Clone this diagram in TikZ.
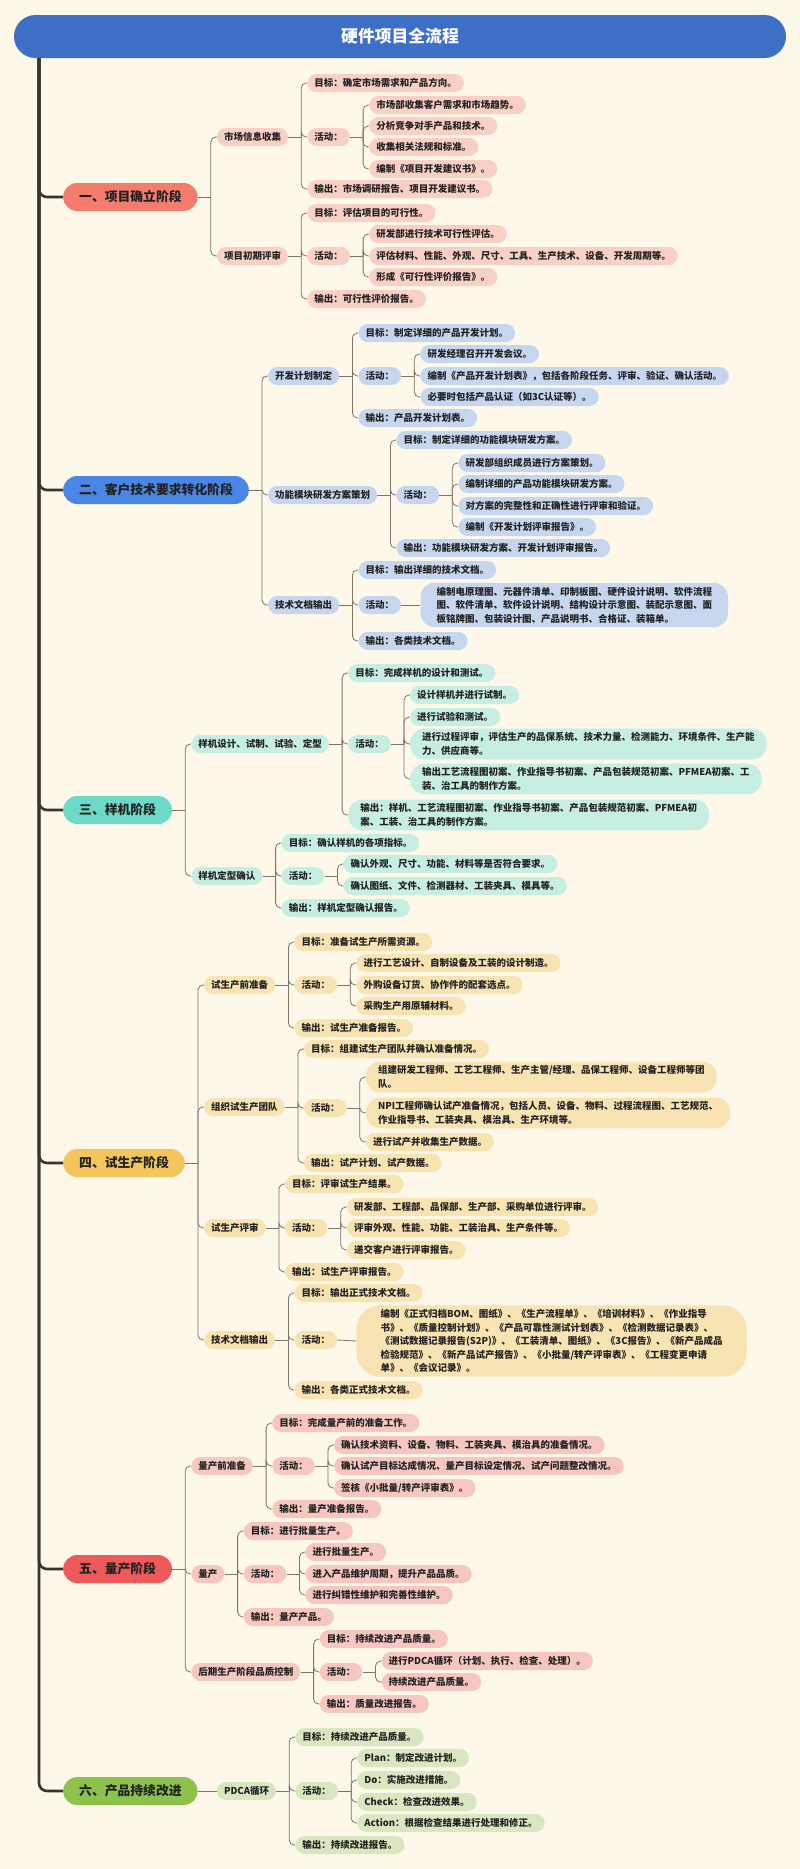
\documentclass[tikz,border=0pt]{standalone}
\usepackage{fontspec}
\setmainfont{Noto Sans CJK SC}
\usepackage{tikz}

\definecolor{paper}{HTML}{FDF8E9}
\definecolor{titleblue}{HTML}{3D6FC6}
\definecolor{ink}{HTML}{222222}
\definecolor{linec}{HTML}{7D7567}
\definecolor{trunkc}{HTML}{3B342E}
\definecolor{oneS}{HTML}{F47C6C}
\definecolor{oneL}{HTML}{F9D0C5}
\definecolor{twoS}{HTML}{4A86E3}
\definecolor{twoL}{HTML}{C6D6EE}
\definecolor{threeS}{HTML}{6ED8C9}
\definecolor{threeL}{HTML}{C6EEE2}
\definecolor{fourS}{HTML}{F3C55C}
\definecolor{fourL}{HTML}{F8E4B3}
\definecolor{fiveS}{HTML}{EE5A5A}
\definecolor{fiveL}{HTML}{F6C6C1}
\definecolor{sixS}{HTML}{8DC34D}
\definecolor{sixL}{HTML}{D9E7C1}

\begin{document}
\begin{tikzpicture}[
  x=1pt, y=-1pt,
  titlebar/.style={
      fill=titleblue,
      text=white,
      rounded corners=21.5pt,
      minimum width=772pt,
      minimum height=43pt,
      font=\fontsize{16.8}{20}\selectfont\bfseries
    },
  box/.style={
      fill=leafc,
      text=ink,
      rounded corners=9pt,
      inner xsep=7pt,
      inner ysep=0pt,
      minimum height=18pt,
      font=\fontsize{9.5}{13.5}\selectfont\bfseries
    },
  leaf/.style={
      box,
      text height=8.2pt,
      text depth=1.6pt
    },
  bigleaf/.style={
      box,
      align=left,
      inner xsep=12pt,
      inner ysep=4pt,
      rounded corners=14pt
    },
  stage/.style={
      fill=stagec,
      text=ink,
      anchor=west,
      rounded corners=14pt,
      minimum height=28pt,
      inner xsep=16pt,
      text height=11pt,
      text depth=1.6pt,
      font=\fontsize{12.8}{15}\selectfont\bfseries
    },
  kid/.style={
      anchor=west,
      xshift=19pt
    },
  link/.style={
      draw=linec,
      line width=0.8pt,
      rounded corners=5pt
    },
  trunk/.style={
      draw=trunkc,
      line width=2.6pt,
      rounded corners=8pt
    }]

  \fill [paper] (0,0) rectangle (800,1869);
  \useasboundingbox (0,0) rectangle (800,1869);

  \node [titlebar] (title) at (400,36.5) {硬件项目全流程};

  % 一
  \begin{scope}
    \colorlet{stagec}{oneS}
    \colorlet{leafc}{oneL}
    \node [stage] (p1) at (63,197) {一、项目确立阶段};
    \node [leaf, kid] (p1a) at (p1.east |- 0,137) {市场信息收集};
    \node [leaf, kid] (p1b) at (p1.east |- 0,256) {项目初期评审};

    \node [leaf, kid] (p1a-goal) at (p1a.east |- 0,83) {目标：确定市场需求和产品方向。};
    \node [leaf, kid] (p1a-act) at (p1a.east |- 0,137) {活动：};
    \node [leaf, kid] (p1a-out) at (p1a.east |- 0,189) {输出：市场调研报告、项目开发建议书。};
    \node [leaf, kid] (p1a-act1) at (p1a-act.east |- 0,105) {市场部收集客户需求和市场趋势。};
    \node [leaf, kid] (p1a-act2) at (p1a-act.east |- 0,126) {分析竞争对手产品和技术。};
    \node [leaf, kid] (p1a-act3) at (p1a-act.east |- 0,147) {收集相关法规和标准。};
    \node [leaf, kid] (p1a-act4) at (p1a-act.east |- 0,169) {编制《项目开发建议书》。};

    \node [leaf, kid] (p1b-goal) at (p1b.east |- 0,213) {目标：评估项目的可行性。};
    \node [leaf, kid] (p1b-act) at (p1b.east |- 0,256) {活动：};
    \node [leaf, kid] (p1b-out) at (p1b.east |- 0,299) {输出：可行性评价报告。};
    \node [leaf, kid] (p1b-act1) at (p1b-act.east |- 0,234) {研发部进行技术可行性评估。};
    \node [leaf, kid] (p1b-act2) at (p1b-act.east |- 0,256) {评估材料、性能、外观、尺寸、工具、生产技术、设备、开发周期等。};
    \node [leaf, kid] (p1b-act3) at (p1b-act.east |- 0,277) {形成《可行性评价报告》。};

    \draw [link] (p1.east) -- ++(13,0) coordinate (p1j);
    \foreach \c in {p1a,p1b} \draw [link] (p1j) |- (\c.west);
    \draw [link] (p1a.east) -- ++(13,0) coordinate (p1aj);
    \foreach \c in {p1a-goal,p1a-act,p1a-out} \draw [link] (p1aj) |- (\c.west);
    \draw [link] (p1a-act.east) -- ++(13,0) coordinate (p1aaj);
    \foreach \c in {p1a-act1,p1a-act2,p1a-act3,p1a-act4} \draw [link] (p1aaj) |- (\c.west);
    \draw [link] (p1b.east) -- ++(13,0) coordinate (p1bj);
    \foreach \c in {p1b-goal,p1b-act,p1b-out} \draw [link] (p1bj) |- (\c.west);
    \draw [link] (p1b-act.east) -- ++(13,0) coordinate (p1baj);
    \foreach \c in {p1b-act1,p1b-act2,p1b-act3} \draw [link] (p1baj) |- (\c.west);
  \end{scope}

  % 二
  \begin{scope}
    \colorlet{stagec}{twoS}
    \colorlet{leafc}{twoL}
    \node [stage] (p2) at (63,490) {二、客户技术要求转化阶段};
    \node [leaf, kid] (p2a) at (p2.east |- 0,376) {开发计划制定};
    \node [leaf, kid] (p2b) at (p2.east |- 0,495) {功能模块研发方案策划};
    \node [leaf, kid] (p2c) at (p2.east |- 0,605) {技术文档输出};

    \node [leaf, kid] (p2a-goal) at (p2a.east |- 0,333) {目标：制定详细的产品开发计划。};
    \node [leaf, kid] (p2a-act) at (p2a.east |- 0,376) {活动：};
    \node [leaf, kid] (p2a-out) at (p2a.east |- 0,418) {输出：产品开发计划表。};
    \node [leaf, kid] (p2a-act1) at (p2a-act.east |- 0,354) {研发经理召开开发会议。};
    \node [leaf, kid] (p2a-act2) at (p2a-act.east |- 0,376) {编制《产品开发计划表》，包括各阶段任务、评审、验证、确认活动。};
    \node [leaf, kid] (p2a-act3) at (p2a-act.east |- 0,397) {必要时包括产品认证（如3C认证等）。};

    \node [leaf, kid] (p2b-goal) at (p2b.east |- 0,440) {目标：制定详细的功能模块研发方案。};
    \node [leaf, kid] (p2b-act) at (p2b.east |- 0,495) {活动：};
    \node [leaf, kid] (p2b-out) at (p2b.east |- 0,548) {输出：功能模块研发方案、开发计划评审报告。};
    \node [leaf, kid] (p2b-act1) at (p2b-act.east |- 0,463) {研发部组织成员进行方案策划。};
    \node [leaf, kid] (p2b-act2) at (p2b-act.east |- 0,484) {编制详细的产品功能模块研发方案。};
    \node [leaf, kid] (p2b-act3) at (p2b-act.east |- 0,506) {对方案的完整性和正确性进行评审和验证。};
    \node [leaf, kid] (p2b-act4) at (p2b-act.east |- 0,527) {编制《开发计划评审报告》。};

    \node [leaf, kid] (p2c-goal) at (p2c.east |- 0,570) {目标：输出详细的技术文档。};
    \node [leaf, kid] (p2c-act) at (p2c.east |- 0,605) {活动：};
    \node [leaf, kid] (p2c-out) at (p2c.east |- 0,641) {输出：各类技术文档。};
    \node [bigleaf, kid, inner xsep=16pt] (p2c-act1) at (p2c-act.east |- 0,605)
      {编制电原理图、元器件清单、印制板图、硬件设计说明、软件流程\\
       图、软件清单、软件设计说明、结构设计示意图、装配示意图、面\\
       板铭牌图、包装设计图、产品说明书、合格证、装箱单。};

    \draw [link] (p2.east) -- ++(13,0) coordinate (p2j);
    \foreach \c in {p2a,p2b,p2c} \draw [link] (p2j) |- (\c.west);
    \draw [link] (p2a.east) -- ++(13,0) coordinate (p2aj);
    \foreach \c in {p2a-goal,p2a-act,p2a-out} \draw [link] (p2aj) |- (\c.west);
    \draw [link] (p2a-act.east) -- ++(13,0) coordinate (p2aaj);
    \foreach \c in {p2a-act1,p2a-act2,p2a-act3} \draw [link] (p2aaj) |- (\c.west);
    \draw [link] (p2b.east) -- ++(13,0) coordinate (p2bj);
    \foreach \c in {p2b-goal,p2b-act,p2b-out} \draw [link] (p2bj) |- (\c.west);
    \draw [link] (p2b-act.east) -- ++(13,0) coordinate (p2baj);
    \foreach \c in {p2b-act1,p2b-act2,p2b-act3,p2b-act4} \draw [link] (p2baj) |- (\c.west);
    \draw [link] (p2c.east) -- ++(13,0) coordinate (p2cj);
    \foreach \c in {p2c-goal,p2c-act,p2c-out} \draw [link] (p2cj) |- (\c.west);
    \draw [link] (p2c-act.east) -- (p2c-act1.west);
  \end{scope}

  % 三
  \begin{scope}
    \colorlet{stagec}{threeS}
    \colorlet{leafc}{threeL}
    \node [stage] (p3) at (63,810) {三、样机阶段};
    \node [leaf, kid] (p3a) at (p3.east |- 0,744) {样机设计、试制、试验、定型};
    \node [leaf, kid] (p3b) at (p3.east |- 0,876) {样机定型确认};

    \node [leaf, kid] (p3a-goal) at (p3a.east |- 0,673) {目标：完成样机的设计和测试。};
    \node [leaf, kid] (p3a-act) at (p3a.east |- 0,744) {活动：};
    \node [bigleaf, kid] (p3a-out) at (p3a.east |- 0,815)
      {输出：样机、工艺流程图初案、作业指导书初案、产品包装规范初案、PFMEA初\\
       案、工装、治工具的制作方案。};
    \node [leaf, kid] (p3a-act1) at (p3a-act.east |- 0,695) {设计样机并进行试制。};
    \node [leaf, kid] (p3a-act2) at (p3a-act.east |- 0,717) {进行试验和测试。};
    \node [bigleaf, kid] (p3a-act3) at (p3a-act.east |- 0,744)
      {进行过程评审，评估生产的品保系统、技术力量、检测能力、环境条件、生产能\\
       力、供应商等。};
    \node [bigleaf, kid] (p3a-act4) at (p3a-act.east |- 0,779)
      {输出工艺流程图初案、作业指导书初案、产品包装规范初案、PFMEA初案、工\\
       装、治工具的制作方案。};

    \node [leaf, kid] (p3b-goal) at (p3b.east |- 0,843) {目标：确认样机的各项指标。};
    \node [leaf, kid] (p3b-act) at (p3b.east |- 0,876) {活动：};
    \node [leaf, kid] (p3b-out) at (p3b.east |- 0,908) {输出：样机定型确认报告。};
    \node [leaf, kid] (p3b-act1) at (p3b-act.east |- 0,864) {确认外观、尺寸、功能、材料等是否符合要求。};
    \node [leaf, kid] (p3b-act2) at (p3b-act.east |- 0,886) {确认图纸、文件、检测器材、工装夹具、模具等。};

    \draw [link] (p3.east) -- ++(13,0) coordinate (p3j);
    \foreach \c in {p3a,p3b} \draw [link] (p3j) |- (\c.west);
    \draw [link] (p3a.east) -- ++(13,0) coordinate (p3aj);
    \foreach \c in {p3a-goal,p3a-act,p3a-out} \draw [link] (p3aj) |- (\c.west);
    \draw [link] (p3a-act.east) -- ++(13,0) coordinate (p3aaj);
    \foreach \c in {p3a-act1,p3a-act2,p3a-act3,p3a-act4} \draw [link] (p3aaj) |- (\c.west);
    \draw [link] (p3b.east) -- ++(13,0) coordinate (p3bj);
    \foreach \c in {p3b-goal,p3b-act,p3b-out} \draw [link] (p3bj) |- (\c.west);
    \draw [link] (p3b-act.east) -- ++(13,0) coordinate (p3baj);
    \foreach \c in {p3b-act1,p3b-act2} \draw [link] (p3baj) |- (\c.west);
  \end{scope}

  % 四
  \begin{scope}
    \colorlet{stagec}{fourS}
    \colorlet{leafc}{fourL}
    \node [stage] (p4) at (63,1163) {四、试生产阶段};
    \node [leaf, kid] (p4a) at (p4.east |- 0,985) {试生产前准备};
    \node [leaf, kid] (p4b) at (p4.east |- 0,1107) {组织试生产团队};
    \node [leaf, kid] (p4c) at (p4.east |- 0,1228) {试生产评审};
    \node [leaf, kid] (p4d) at (p4.east |- 0,1340) {技术文档输出};

    \node [leaf, kid] (p4a-goal) at (p4a.east |- 0,942) {目标：准备试生产所需资源。};
    \node [leaf, kid] (p4a-act) at (p4a.east |- 0,985) {活动：};
    \node [leaf, kid] (p4a-out) at (p4a.east |- 0,1028) {输出：试生产准备报告。};
    \node [leaf, kid] (p4a-act1) at (p4a-act.east |- 0,963) {进行工艺设计、自制设备及工装的设计制造。};
    \node [leaf, kid] (p4a-act2) at (p4a-act.east |- 0,985) {外购设备订货、协作件的配套选点。};
    \node [leaf, kid] (p4a-act3) at (p4a-act.east |- 0,1006) {采购生产用原辅材料。};

    \node [leaf, kid] (p4b-goal) at (p4b.east |- 0,1049) {目标：组建试生产团队并确认准备情况。};
    \node [leaf, kid] (p4b-act) at (p4b.east |- 0,1108) {活动：};
    \node [leaf, kid] (p4b-out) at (p4b.east |- 0,1163) {输出：试产计划、试产数据。};
    \node [bigleaf, kid] (p4b-act1) at (p4b-act.east |- 0,1077)
      {组建研发工程师、工艺工程师、生产主管/经理、品保工程师、设备工程师等团\\
       队。};
    \node [bigleaf, kid] (p4b-act2) at (p4b-act.east |- 0,1113)
      {NPI工程师确认试产准备情况，包括人员、设备、物料、过程流程图、工艺规范、\\
       作业指导书、工装夹具、模治具、生产环境等。};
    \node [leaf, kid] (p4b-act3) at (p4b-act.east |- 0,1142) {进行试产并收集生产数据。};

    \node [leaf, kid] (p4c-goal) at (p4c.east |- 0,1184) {目标：评审试生产结果。};
    \node [leaf, kid] (p4c-act) at (p4c.east |- 0,1228) {活动：};
    \node [leaf, kid] (p4c-out) at (p4c.east |- 0,1272) {输出：试生产评审报告。};
    \node [leaf, kid] (p4c-act1) at (p4c-act.east |- 0,1207) {研发部、工程部、品保部、生产部、采购单位进行评审。};
    \node [leaf, kid] (p4c-act2) at (p4c-act.east |- 0,1228) {评审外观、性能、功能、工装治具、生产条件等。};
    \node [leaf, kid] (p4c-act3) at (p4c-act.east |- 0,1250) {递交客户进行评审报告。};

    \node [leaf, kid] (p4d-goal) at (p4d.east |- 0,1293) {目标：输出正式技术文档。};
    \node [leaf, kid] (p4d-act) at (p4d.east |- 0,1340) {活动：};
    \node [leaf, kid] (p4d-out) at (p4d.east |- 0,1390) {输出：各类正式技术文档。};
    \node [bigleaf, kid, inner xsep=24pt, rounded corners=24pt] (p4d-act1) at (p4d-act.east |- 0,1341)
      {编制《正式归档BOM、图纸》、《生产流程单》、《培训材料》、《作业指导\\
       书》、《质量控制计划》、《产品可靠性测试计划表》、《检测数据记录表》、\\
       《测试数据记录报告(S2P)》、《工装清单、图纸》、《3C报告》、《新产品成品\\
       检验规范》、《新产品试产报告》、《小批量/转产评审表》、《工程变更申请\\
       单》、《会议记录》。};

    \draw [link] (p4.east) -- ++(13,0) coordinate (p4j);
    \foreach \c in {p4a,p4b,p4c,p4d} \draw [link] (p4j) |- (\c.west);
    \draw [link] (p4a.east) -- ++(13,0) coordinate (p4aj);
    \foreach \c in {p4a-goal,p4a-act,p4a-out} \draw [link] (p4aj) |- (\c.west);
    \draw [link] (p4a-act.east) -- ++(13,0) coordinate (p4aaj);
    \foreach \c in {p4a-act1,p4a-act2,p4a-act3} \draw [link] (p4aaj) |- (\c.west);
    \draw [link] (p4b.east) -- ++(13,0) coordinate (p4bj);
    \foreach \c in {p4b-goal,p4b-act,p4b-out} \draw [link] (p4bj) |- (\c.west);
    \draw [link] (p4b-act.east) -- ++(13,0) coordinate (p4baj);
    \foreach \c in {p4b-act1,p4b-act2,p4b-act3} \draw [link] (p4baj) |- (\c.west);
    \draw [link] (p4c.east) -- ++(13,0) coordinate (p4cj);
    \foreach \c in {p4c-goal,p4c-act,p4c-out} \draw [link] (p4cj) |- (\c.west);
    \draw [link] (p4c-act.east) -- ++(13,0) coordinate (p4caj);
    \foreach \c in {p4c-act1,p4c-act2,p4c-act3} \draw [link] (p4caj) |- (\c.west);
    \draw [link] (p4d.east) -- ++(13,0) coordinate (p4dj);
    \foreach \c in {p4d-goal,p4d-act,p4d-out} \draw [link] (p4dj) |- (\c.west);
    \draw [link] (p4d-act.east) -- (p4d-act1.west);
  \end{scope}

  % 五
  \begin{scope}
    \colorlet{stagec}{fiveS}
    \colorlet{leafc}{fiveL}
    \node [stage] (p5) at (63,1569) {五、量产阶段};
    \node [leaf, kid] (p5a) at (p5.east |- 0,1466) {量产前准备};
    \node [leaf, kid] (p5b) at (p5.east |- 0,1574) {量产};
    \node [leaf, kid] (p5c) at (p5.east |- 0,1672) {后期生产阶段品质控制};

    \node [leaf, kid] (p5a-goal) at (p5a.east |- 0,1423) {目标：完成量产前的准备工作。};
    \node [leaf, kid] (p5a-act) at (p5a.east |- 0,1466) {活动：};
    \node [leaf, kid] (p5a-out) at (p5a.east |- 0,1509) {输出：量产准备报告。};
    \node [leaf, kid] (p5a-act1) at (p5a-act.east |- 0,1445) {确认技术资料、设备、物料、工装夹具、模治具的准备情况。};
    \node [leaf, kid] (p5a-act2) at (p5a-act.east |- 0,1466) {确认试产目标达成情况、量产目标设定情况、试产问题整改情况。};
    \node [leaf, kid] (p5a-act3) at (p5a-act.east |- 0,1488) {签核《小批量/转产评审表》。};

    \node [leaf, kid] (p5b-goal) at (p5b.east |- 0,1531) {目标：进行批量生产。};
    \node [leaf, kid] (p5b-act) at (p5b.east |- 0,1574) {活动：};
    \node [leaf, kid] (p5b-out) at (p5b.east |- 0,1617) {输出：量产产品。};
    \node [leaf, kid] (p5b-act1) at (p5b-act.east |- 0,1552) {进行批量生产。};
    \node [leaf, kid] (p5b-act2) at (p5b-act.east |- 0,1574) {进入产品维护周期，提升产品品质。};
    \node [leaf, kid] (p5b-act3) at (p5b-act.east |- 0,1595) {进行纠错性维护和完善性维护。};

    \node [leaf, kid] (p5c-goal) at (p5c.east |- 0,1639) {目标：持续改进产品质量。};
    \node [leaf, kid] (p5c-act) at (p5c.east |- 0,1672) {活动：};
    \node [leaf, kid] (p5c-out) at (p5c.east |- 0,1704) {输出：质量改进报告。};
    \node [leaf, kid] (p5c-act1) at (p5c-act.east |- 0,1661) {进行PDCA循环（计划、执行、检查、处理）。};
    \node [leaf, kid] (p5c-act2) at (p5c-act.east |- 0,1682) {持续改进产品质量。};

    \draw [link] (p5.east) -- ++(13,0) coordinate (p5j);
    \foreach \c in {p5a,p5b,p5c} \draw [link] (p5j) |- (\c.west);
    \draw [link] (p5a.east) -- ++(13,0) coordinate (p5aj);
    \foreach \c in {p5a-goal,p5a-act,p5a-out} \draw [link] (p5aj) |- (\c.west);
    \draw [link] (p5a-act.east) -- ++(13,0) coordinate (p5aaj);
    \foreach \c in {p5a-act1,p5a-act2,p5a-act3} \draw [link] (p5aaj) |- (\c.west);
    \draw [link] (p5b.east) -- ++(13,0) coordinate (p5bj);
    \foreach \c in {p5b-goal,p5b-act,p5b-out} \draw [link] (p5bj) |- (\c.west);
    \draw [link] (p5b-act.east) -- ++(13,0) coordinate (p5baj);
    \foreach \c in {p5b-act1,p5b-act2,p5b-act3} \draw [link] (p5baj) |- (\c.west);
    \draw [link] (p5c.east) -- ++(13,0) coordinate (p5cj);
    \foreach \c in {p5c-goal,p5c-act,p5c-out} \draw [link] (p5cj) |- (\c.west);
    \draw [link] (p5c-act.east) -- ++(13,0) coordinate (p5caj);
    \foreach \c in {p5c-act1,p5c-act2} \draw [link] (p5caj) |- (\c.west);
  \end{scope}

  % 六
  \begin{scope}
    \colorlet{stagec}{sixS}
    \colorlet{leafc}{sixL}
    \node [stage] (p6) at (63,1791) {六、产品持续改进};
    \node [leaf, kid] (p6a) at (p6.east |- 0,1791) {PDCA循环};

    \node [leaf, kid] (p6a-goal) at (p6a.east |- 0,1737) {目标：持续改进产品质量。};
    \node [leaf, kid] (p6a-act) at (p6a.east |- 0,1791) {活动：};
    \node [leaf, kid] (p6a-out) at (p6a.east |- 0,1845) {输出：持续改进报告。};
    \node [leaf, kid] (p6a-act1) at (p6a-act.east |- 0,1758) {Plan：制定改进计划。};
    \node [leaf, kid] (p6a-act2) at (p6a-act.east |- 0,1780) {Do：实施改进措施。};
    \node [leaf, kid] (p6a-act3) at (p6a-act.east |- 0,1802) {Check：检查改进效果。};
    \node [leaf, kid] (p6a-act4) at (p6a-act.east |- 0,1823) {Action：根据检查结果进行处理和修正。};

    \draw [link] (p6.east) -- (p6a.west);
    \draw [link] (p6a.east) -- ++(13,0) coordinate (p6aj);
    \foreach \c in {p6a-goal,p6a-act,p6a-out} \draw [link] (p6aj) |- (\c.west);
    \draw [link] (p6a-act.east) -- ++(13,0) coordinate (p6aaj);
    \foreach \c in {p6a-act1,p6a-act2,p6a-act3,p6a-act4} \draw [link] (p6aaj) |- (\c.west);
  \end{scope}

  \coordinate (trunktop) at (title.south -| 39,0);
  \foreach \s in {p1,p2,p3,p4,p5,p6} \draw [trunk] (trunktop) |- (\s.west);
\end{tikzpicture}
\end{document}
